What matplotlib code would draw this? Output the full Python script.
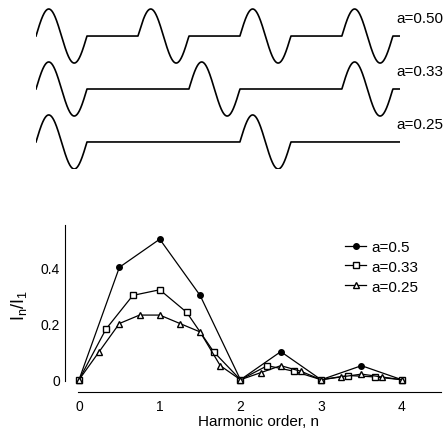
import numpy as np
import matplotlib
matplotlib.use("Agg")
import matplotlib.pyplot as plt

plt.rcParams["font.family"] = ["Liberation Sans", "DejaVu Sans"]
plt.rcParams["mathtext.fontset"] = "custom"
plt.rcParams["mathtext.rm"] = "Liberation Sans"

# waveform duty values (top panel)
wave_labels = ["a=0.50", "a=0.33", "a=0.25"]
wave_periods = [2, 3, 4]   # period in units of one sine cycle

# harmonic spectra (bottom panel)
x_05 = [0, 0.5, 1, 1.5, 2, 2.5, 3, 3.5, 4]
y_05 = [0, 0.40, 0.50, 0.30, 0, 0.10, 0, 0.05, 0]

x_033 = [0, 1/3, 2/3, 1, 4/3, 5/3, 2, 7/3, 8/3, 3, 10/3, 11/3, 4]
y_033 = [0, 0.18, 0.30, 0.32, 0.24, 0.10, 0, 0.05, 0.03, 0, 0.015, 0.01, 0]

x_025 = [0, 0.25, 0.5, 0.75, 1, 1.25, 1.5, 1.75, 2, 2.25, 2.5, 2.75, 3,
         3.25, 3.5, 3.75, 4]
y_025 = [0, 0.10, 0.20, 0.23, 0.23, 0.20, 0.17, 0.05, 0, 0.025, 0.05, 0.03, 0,
         0.01, 0.02, 0.01, 0]

W, H = 448, 431
fig = plt.figure(figsize=(W / 100, H / 100), dpi=100)


def px_axes(left, top, right, bottom):
    return fig.add_axes([left / W, 1 - bottom / H, (right - left) / W, (bottom - top) / H])


# ---- top: pulsed sine waveforms
ax1 = px_axes(36, 5, 400, 170)
t = np.linspace(0, 7.14, 3000)
for i, (lab, T) in enumerate(zip(wave_labels, wave_periods)):
    base = -i * 1.96
    phase = np.mod(t, T)
    y = np.where(phase < 1, np.sin(2 * np.pi * phase), 0.0)
    ax1.plot(t, base + y, color="black", lw=1.2)
    ax1.text(7.06, base + 0.67, lab, fontsize=11, ha="left", va="center", clip_on=False)
ax1.set_xlim(0, 7.14)
ax1.set_ylim(-4.92, 1.185)
ax1.axis("off")

# ---- bottom: harmonic content
L, T_, R, B = 62.9, 223.3, 442.2, 397.6
ax2 = px_axes(L, T_, R, B)
ax2.plot(x_05, y_05, color="black", lw=0.9, marker="o", ms=4, mfc="black", label="a=0.5")
ax2.plot(x_033, y_033, color="black", lw=0.9, marker="s", ms=5, mfc="white", label="a=0.33")
ax2.plot(x_025, y_025, color="black", lw=0.9, marker="^", ms=4.5, mfc="white", label="a=0.25")
ax2.set_xlim(-0.2, 4.5)
ax2.set_ylim(-0.06, 0.56)

for s in ["top", "right"]:
    ax2.spines[s].set_visible(False)
ax2.spines["left"].set_position(("data", -0.17))
ax2.spines["left"].set_bounds(-0.005, 0.55)
ax2.spines["bottom"].set_position(("data", -0.044))
ax2.spines["bottom"].set_bounds(-0.01, 4.48)

ax2.set_xticks([0, 1, 2, 3, 4])
ax2.set_xticklabels(["0", "1", "2", "3", "4"])
ax2.set_yticks([0, 0.2, 0.4])
ax2.set_yticklabels(["0", "0.2", "0.4"])
ax2.tick_params(length=0, labelsize=10)
ax2.tick_params(axis="y", pad=4)
ax2.tick_params(axis="x", pad=5)

ax2.set_xlabel("Harmonic order, n", fontsize=11, labelpad=0)
ax2.xaxis.set_label_coords((259 - L) / (R - L), -(415 - B) / (B - T_))
ax2.set_ylabel(r"I$_\mathregular{n}$/I$_\mathregular{1}$", fontsize=13)
ax2.yaxis.set_label_coords((29 - L) / (R - L), (B - 305) / (B - T_))

ax2.legend(loc="upper left", bbox_to_anchor=((345 - L) / (R - L), (B - 241) / (B - T_)),
           frameon=False, fontsize=11, borderpad=0, borderaxespad=0,
           handlelength=1.4, handletextpad=0.3, labelspacing=0.38)

fig.savefig("out.png", dpi=100)
